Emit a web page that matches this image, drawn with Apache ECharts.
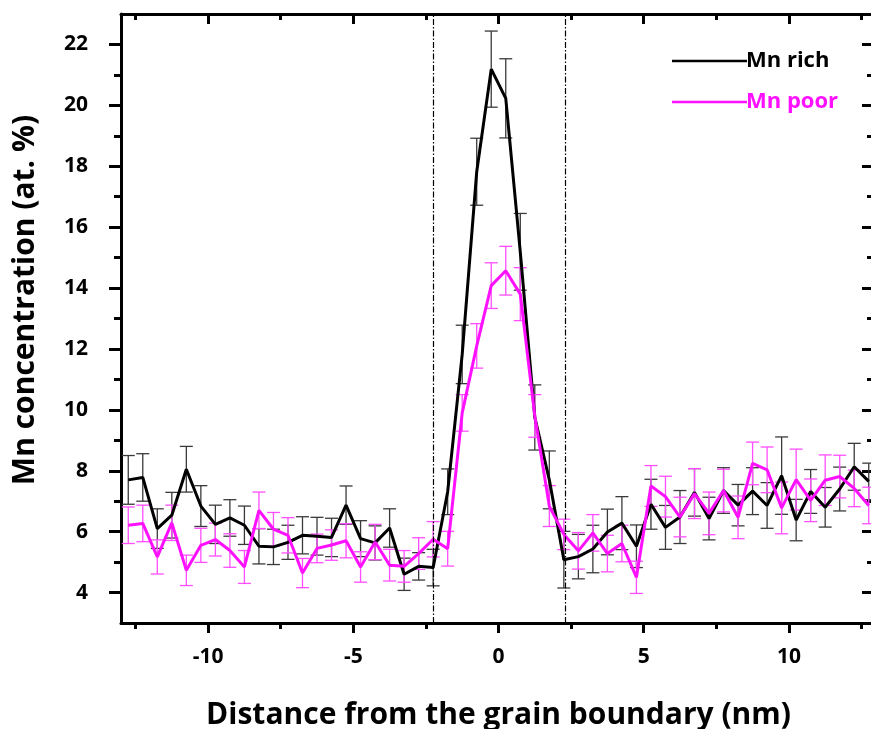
<!DOCTYPE html>
<html>
<head>
<meta charset="utf-8">
<title>Mn concentration across the grain boundary</title>
<script src="https://cdn.jsdelivr.net/npm/echarts@6/dist/echarts.min.js"></script>
<style>
  html, body { margin: 0; padding: 0; background: #fff; }
  #chart { width: 871px; height: 729px; }
</style>
</head>
<body>
<div id="chart"></div>
<script>
// distance from the grain boundary (nm)
const distance = [
  -12.75, -12.25, -11.75, -11.25, -10.75, -10.25, -9.75, -9.25, -8.75, -8.25,
  -7.75, -7.25, -6.75, -6.25, -5.75, -5.25, -4.75, -4.25, -3.75, -3.25,
  -2.75, -2.25, -1.75, -1.25, -0.75, -0.25, 0.25, 0.75, 1.25, 1.75,
  2.25, 2.75, 3.25, 3.75, 4.25, 4.75, 5.25, 5.75, 6.25, 6.75,
  7.25, 7.75, 8.25, 8.75, 9.25, 9.75, 10.25, 10.75, 11.25, 11.75,
  12.25, 12.75
]
const mnRich = [
  7.70, 7.78, 6.10, 6.54, 8.05, 6.84, 6.24, 6.45, 6.21, 5.52,
  5.50, 5.65, 5.88, 5.85, 5.81, 6.87, 5.77, 5.63, 6.12, 4.60,
  4.86, 4.82, 7.31, 11.82, 17.82, 21.19, 20.23, 15.19, 9.75, 7.70,
  5.08, 5.18, 5.43, 5.99, 6.28, 5.52, 6.90, 6.14, 6.48, 7.29,
  6.43, 7.35, 6.87, 7.33, 6.86, 7.84, 6.38, 7.32, 6.80, 7.40,
  8.13, 7.65
]
const mnRichErr = [
  0.80, 0.78, 0.65, 0.75, 0.75, 0.67, 0.63, 0.60, 0.63, 0.58,
  0.58, 0.56, 0.61, 0.62, 0.63, 0.63, 0.59, 0.56, 0.63, 0.53,
  0.45, 0.60, 0.75, 0.96, 1.10, 1.25, 1.30, 1.26, 1.07, 0.95,
  0.93, 0.73, 0.78, 0.75, 0.87, 0.70, 0.82, 0.72, 0.87, 0.78,
  0.70, 0.75, 0.68, 0.77, 0.75, 1.27, 0.68, 0.72, 0.65, 0.72,
  0.77, 0.60
]
const mnPoor = [
  6.21, 6.27, 5.17, 6.29, 4.73, 5.55, 5.74, 5.38, 4.84, 6.70,
  6.08, 5.88, 4.64, 5.45, 5.56, 5.70, 4.84, 5.66, 4.90, 4.86,
  5.28, 5.75, 5.44, 9.90, 12.10, 14.08, 14.57, 13.80, 9.80, 6.84,
  5.91, 5.37, 5.96, 5.28, 5.61, 4.50, 7.50, 7.15, 6.48, 7.25,
  6.60, 7.35, 6.47, 8.24, 8.03, 6.78, 7.71, 7.03, 7.69, 7.81,
  7.42, 6.86
]
const mnPoorErr = [
  0.60, 0.60, 0.56, 0.58, 0.50, 0.56, 0.54, 0.55, 0.54, 0.60,
  0.55, 0.58, 0.48, 0.47, 0.50, 0.56, 0.50, 0.58, 0.52, 0.52,
  0.52, 0.58, 0.57, 0.60, 0.73, 0.75, 0.80, 0.87, 0.70, 0.67,
  0.50, 0.60, 0.60, 0.60, 0.60, 0.53, 0.67, 0.67, 0.65, 0.82,
  0.70, 0.70, 0.70, 0.70, 0.75, 0.85, 1.00, 0.70, 0.83, 0.70,
  0.60, 0.60
]
// dash-dot lines marking the boundary region
const boundaryEdges = [-2.25, 2.3]

const xTicks = [-10, -5, 0, 5, 10]
const xMinorTicks = [-12.5, -7.5, -2.5, 2.5, 7.5, 12.5]
const yTicks = [4, 6, 8, 10, 12, 14, 16, 18, 20, 22]
const yMinorTicks = [5, 7, 9, 11, 13, 15, 17, 19, 21]

const FONT = '"Open Sans", Lato, sans-serif'
const RICH_COLOR = '#000000'
const POOR_COLOR = '#ff10ff'

const chart = echarts.init(document.getElementById('chart'), null, {renderer: 'canvas'})

const errorBar = (color) => (params, api) => {
  const x = api.value(0)
  const lo = api.coord([x, api.value(1)])
  const hi = api.coord([x, api.value(2)])
  const w = 6.5
  const style = {stroke: color, lineWidth: 1.3}
  return {
    type: 'group',
    children: [
      {type: 'line', shape: {x1: lo[0], y1: lo[1], x2: hi[0], y2: hi[1]}, style},
      {type: 'line', shape: {x1: lo[0] - w, y1: lo[1], x2: lo[0] + w, y2: lo[1]}, style},
      {type: 'line', shape: {x1: hi[0] - w, y1: hi[1], x2: hi[0] + w, y2: hi[1]}, style}
    ]
  }
}

const frame = {show: true, onZero: false, lineStyle: {color: '#000', width: 3}}
const noLine = {show: false, onZero: false}
const tickStyle = {color: '#000', width: 3}
const tickFont = {fontFamily: FONT, fontWeight: 'bold', fontSize: 21, color: '#000'}

// each side gets one axis for the major ticks and one for the minor ticks
const xAxisOf = (position, values, length, opts) => Object.assign({
  type: 'value',
  position,
  min: -13,
  max: 13,
  axisLine: noLine,
  axisTick: {customValues: values, length, inside: position === 'top', lineStyle: tickStyle},
  axisLabel: {show: false},
  splitLine: {show: false}
}, opts || {})

const yAxisOf = (position, values, length, opts) => Object.assign({
  type: 'value',
  position,
  min: 3,
  max: 23,
  axisLine: noLine,
  axisTick: {customValues: values, length, inside: position === 'right', lineStyle: tickStyle},
  axisLabel: {show: false},
  splitLine: {show: false}
}, opts || {})

const option = {
  animation: false,
  backgroundColor: '#fff',
  // the right frame sits just past the picture edge, so do not pull the grid inside
  grid: {left: 121, right: -5, top: 14, bottom: 106, outerBoundsMode: 'none'},
  xAxis: [
    xAxisOf('bottom', xTicks, 10, {
      axisLine: frame,
      axisLabel: Object.assign({customValues: xTicks, margin: 24}, tickFont),
      name: 'Distance from the grain boundary (nm)',
      nameLocation: 'middle',
      nameGap: 77,
      nameTextStyle: {fontFamily: FONT, fontWeight: 'bold', fontSize: 30, color: '#000'}
    }),
    xAxisOf('bottom', xMinorTicks, 6),
    xAxisOf('top', xTicks, 10, {axisLine: frame}),
    xAxisOf('top', xMinorTicks, 6)
  ],
  yAxis: [
    yAxisOf('left', yTicks, 12, {
      axisLine: frame,
      axisLabel: Object.assign({customValues: yTicks, margin: 33}, tickFont)
    }),
    yAxisOf('left', yMinorTicks, 7),
    yAxisOf('right', yTicks, 14, {axisLine: frame}),
    yAxisOf('right', yMinorTicks, 9)
  ],
  legend: {
    orient: 'vertical',
    left: 667,
    top: 45,
    icon: 'rect',
    itemWidth: 75,
    itemHeight: 2.5,
    itemGap: 19,
    textStyle: {fontFamily: FONT, fontWeight: 'bold', fontSize: 22, padding: [0, 0, 0, -6]},
    data: [
      {name: 'Mn rich', textStyle: {color: RICH_COLOR}},
      {name: 'Mn poor', textStyle: {color: POOR_COLOR}}
    ]
  },
  graphic: [{
    type: 'text',
    x: 25,
    y: 300,
    rotation: Math.PI / 2,
    style: {
      text: 'Mn concentration (at. %)',
      font: 'bold 30px ' + FONT,
      fill: '#000',
      align: 'center',
      verticalAlign: 'middle'
    }
  }],
  series: [
    {
      name: 'Mn rich error',
      type: 'custom',
      renderItem: errorBar('#3a3a3a'),
      encode: {x: 0, y: [1, 2]},
      data: distance.map((d, i) => [d, mnRich[i] - mnRichErr[i], mnRich[i] + mnRichErr[i]]),
      z: 2
    },
    {
      name: 'Mn poor error',
      type: 'custom',
      renderItem: errorBar('#ff4dff'),
      encode: {x: 0, y: [1, 2]},
      data: distance.map((d, i) => [d, mnPoor[i] - mnPoorErr[i], mnPoor[i] + mnPoorErr[i]]),
      z: 2
    },
    {
      name: 'Mn rich',
      type: 'line',
      data: distance.map((d, i) => [d, mnRich[i]]),
      symbol: 'none',
      color: RICH_COLOR,
      lineStyle: {color: RICH_COLOR, width: 3},
      z: 3,
      markLine: {
        silent: true,
        symbol: ['none', 'none'],
        label: {show: false},
        lineStyle: {color: '#000', width: 1.2, type: [6, 2, 1.5, 2]},
        data: boundaryEdges.map(x => ({xAxis: x}))
      }
    },
    {
      name: 'Mn poor',
      type: 'line',
      data: distance.map((d, i) => [d, mnPoor[i]]),
      symbol: 'none',
      color: POOR_COLOR,
      lineStyle: {color: POOR_COLOR, width: 3},
      z: 4
    }
  ]
}

chart.setOption(option)
</script>
</body>
</html>
